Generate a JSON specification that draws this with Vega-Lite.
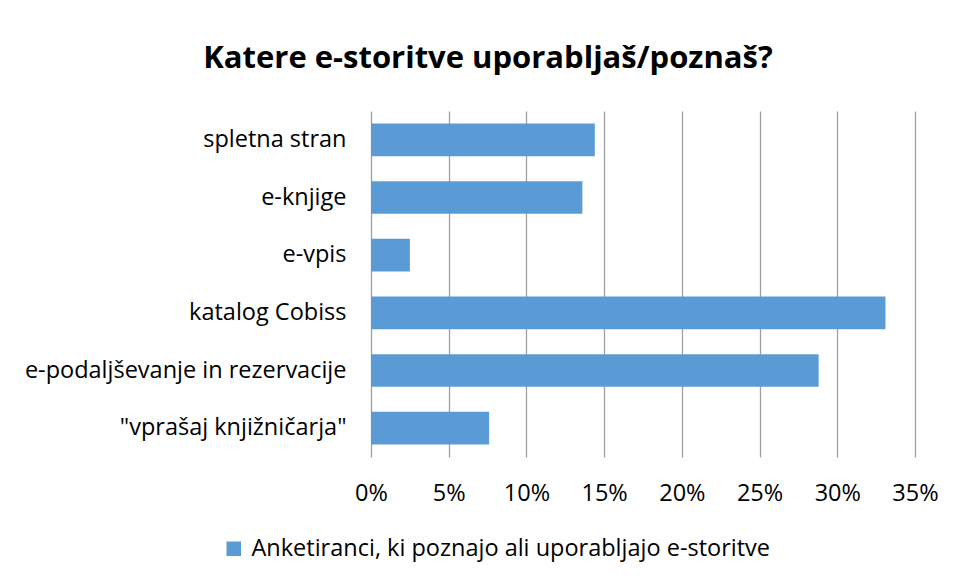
{
  "$schema": "https://vega.github.io/schema/vega-lite/v6.json",
  "width": 544,
  "height": 346,
  "autosize": {"type": "none"},
  "padding": {"left": 371, "top": 111, "right": 42, "bottom": 124},
  "background": "white",
  "title": {
    "text": "Katere e-storitve uporabljaš/poznaš?",
    "font": "Open Sans",
    "fontSize": 31,
    "fontWeight": "bold",
    "color": "#000000",
    "anchor": "middle",
    "baseline": "alphabetic",
    "dx": -155,
    "dy": 25,
    "offset": 37
  },
  "data": {
    "values": [
      {"storitev": "spletna stran", "delez": 0.144, "serija": "Anketiranci, ki poznajo ali uporabljajo e-storitve"},
      {"storitev": "e-knjige", "delez": 0.136, "serija": "Anketiranci, ki poznajo ali uporabljajo e-storitve"},
      {"storitev": "e-vpis", "delez": 0.025, "serija": "Anketiranci, ki poznajo ali uporabljajo e-storitve"},
      {"storitev": "katalog Cobiss", "delez": 0.331, "serija": "Anketiranci, ki poznajo ali uporabljajo e-storitve"},
      {"storitev": "e-podaljševanje in rezervacije", "delez": 0.288, "serija": "Anketiranci, ki poznajo ali uporabljajo e-storitve"},
      {"storitev": "\"vprašaj knjižničarja\"", "delez": 0.076, "serija": "Anketiranci, ki poznajo ali uporabljajo e-storitve"}
    ]
  },
  "mark": {"type": "bar"},
  "encoding": {
    "y": {
      "field": "storitev",
      "type": "nominal",
      "sort": null,
      "scale": {"paddingInner": 0.433, "paddingOuter": 0.2165},
      "axis": {
        "title": null,
        "domain": false,
        "ticks": false,
        "labelPadding": 25,
        "labelFont": "Open Sans",
        "labelFontSize": 23.5,
        "labelColor": "#000000",
        "labelLimit": 400
      }
    },
    "x": {
      "field": "delez",
      "type": "quantitative",
      "scale": {"domain": [0, 0.35], "nice": false},
      "axis": {
        "title": null,
        "format": ".0%",
        "values": [0, 0.05, 0.1, 0.15, 0.2, 0.25, 0.3, 0.35],
        "domain": false,
        "ticks": false,
        "grid": true,
        "gridColor": "#a0a0a0",
        "gridWidth": 1.3,
        "labelFlush": false,
        "labelOverlap": false,
        "labelPadding": 24,
        "labelFont": "Open Sans",
        "labelFontSize": 23.5,
        "labelColor": "#000000"
      }
    },
    "color": {
      "field": "serija",
      "type": "nominal",
      "scale": {"range": ["#5B9BD5"]},
      "legend": {
        "title": null,
        "orient": "none",
        "legendX": -149,
        "legendY": 426,
        "symbolType": "square",
        "symbolSize": 210,
        "symbolStrokeWidth": 0,
        "symbolOpacity": 1,
        "labelFont": "Open Sans",
        "labelFontSize": 23.5,
        "labelColor": "#000000",
        "labelOffset": 6,
        "labelLimit": 700
      }
    }
  },
  "config": {
    "view": {"stroke": null}
  }
}
